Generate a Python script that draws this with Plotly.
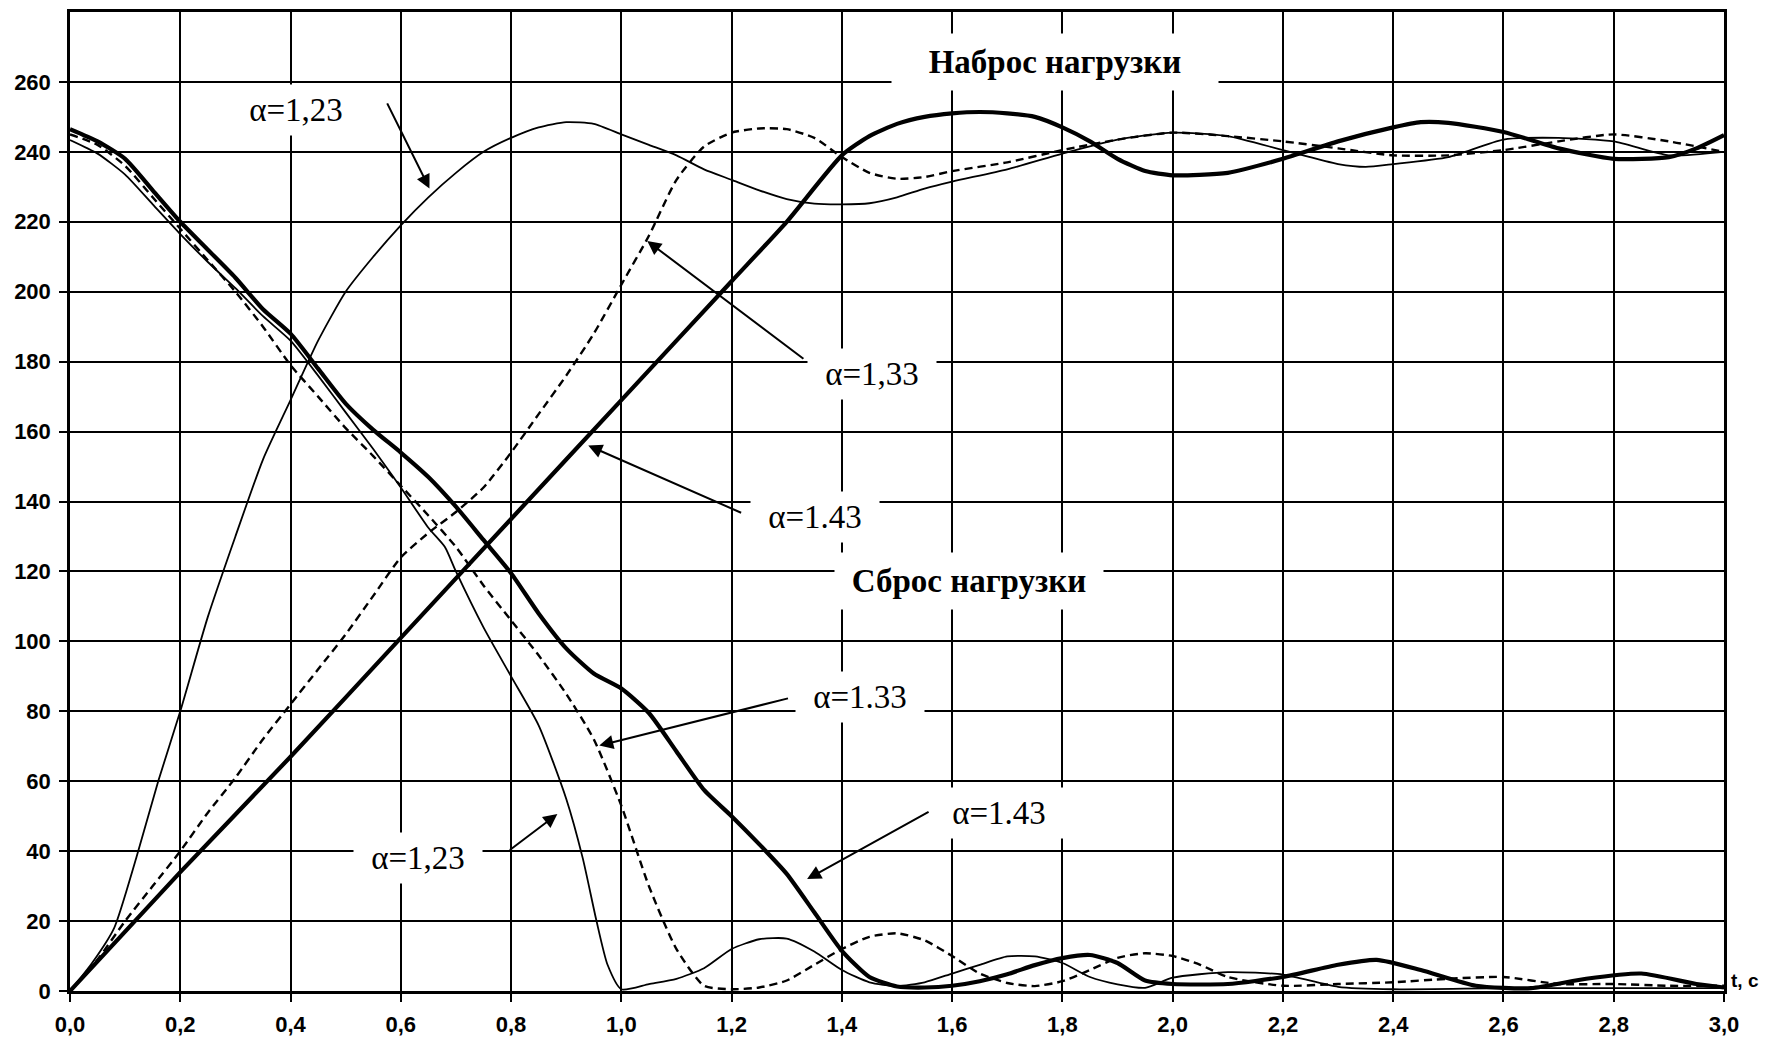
import plotly.graph_objects as go

# ---------------- data ----------------
# Наброс нагрузки (load application), alpha = 1.23 / 1.33 / 1.43
t_rise_123 = [0, 0.04, 0.08, 0.12, 0.16, 0.2, 0.25, 0.3, 0.35, 0.4, 0.45, 0.5, 0.55, 0.6, 0.65, 0.7,
              0.75, 0.8, 0.85, 0.9, 0.95, 1.0, 1.05, 1.1, 1.15, 1.2, 1.25, 1.3, 1.35, 1.4, 1.45, 1.5,
              1.55, 1.6, 1.7, 1.8, 1.9, 2.0, 2.1, 2.2, 2.3, 2.35, 2.4, 2.5, 2.6, 2.7, 2.8, 2.9, 3.0]
v_rise_123 = [0, 8, 18, 38, 60, 80, 107, 130, 152, 169, 186, 200, 210, 219, 227, 234,
              240, 244, 247, 248.5, 248, 245, 242, 239, 235, 232, 229, 226.5, 225.2, 225, 225.3, 227,
              229.5, 231.5, 235, 239.5, 243.5, 245.5, 244.5, 240.5, 236.5, 235.7, 236.5, 238.5, 243.5, 244, 243, 239, 240]

t_rise_133 = [0, 0.05, 0.1, 0.15, 0.2, 0.25, 0.3, 0.35, 0.4, 0.45, 0.5, 0.55, 0.6, 0.65, 0.7, 0.75,
              0.8, 0.85, 0.9, 0.95, 1.0, 1.05, 1.1, 1.15, 1.2, 1.25, 1.3, 1.35, 1.4, 1.45, 1.5, 1.55,
              1.6, 1.7, 1.8, 1.9, 2.0, 2.1, 2.2, 2.3, 2.4, 2.5, 2.6, 2.7, 2.8, 2.9, 3.0]
v_rise_133 = [0, 9, 20, 30, 40, 51, 61, 72, 82, 92, 102, 113, 124, 131, 137, 144,
              154, 165, 176, 188, 202, 216, 232, 241.5, 245.5, 246.7, 246.5, 244, 238.5, 234, 232.3, 232.8,
              234.5, 237, 240.5, 243.5, 245.5, 244.5, 243, 241, 239, 239, 240.5, 243, 245, 243, 240]

t_rise_143 = [0, 0.2, 0.4, 0.6, 0.8, 1.0, 1.2, 1.3, 1.4, 1.45, 1.5, 1.55, 1.6, 1.65, 1.7, 1.75, 1.8,
              1.85, 1.9, 1.95, 2.0, 2.1, 2.2, 2.3, 2.4, 2.45, 2.5, 2.6, 2.7, 2.8, 2.9, 2.95, 3.0]
v_rise_143 = [0, 34, 67, 101, 135, 169, 203, 220, 239, 244.5, 248, 250, 251, 251.4, 251, 250, 247,
              243, 238, 234.5, 233.3, 234, 238, 243, 247, 248.5, 248.3, 245.7, 241, 238, 238.5, 241, 244.8]

# Сброс нагрузки (load rejection), alpha = 1.23 / 1.33 / 1.43
t_fall_123 = [0, 0.05, 0.1, 0.15, 0.2, 0.25, 0.3, 0.35, 0.4, 0.45, 0.5, 0.55, 0.6, 0.65, 0.68, 0.7,
              0.75, 0.8, 0.85, 0.9, 0.93, 0.955, 0.975, 1.0, 1.05, 1.1, 1.15, 1.2, 1.25, 1.3, 1.35,
              1.4, 1.45, 1.5, 1.55, 1.6, 1.65, 1.7, 1.75, 1.8, 1.85, 1.9, 1.95, 2.0, 2.1, 2.2, 2.3,
              2.4, 2.6, 2.8, 3.0]
v_fall_123 = [243.4, 239.5, 233.5, 225, 216.5, 208.5, 201, 193, 186, 176, 165.5, 155, 144, 132.5, 127, 120,
              104, 90, 76, 55, 38, 20, 7.5, 0.5, 2, 3.5, 6.5, 12, 14.8, 15, 11.3,
              6, 2.5, 1.4, 2.5, 5, 7.5, 9.9, 9.9, 8, 4, 1.9, 0.9, 3.8, 5.4, 4.7, 1.2,
              0.5, 0.8, 0.8, 0.8]

t_fall_133 = [0, 0.05, 0.1, 0.15, 0.2, 0.25, 0.3, 0.35, 0.4, 0.45, 0.5, 0.55, 0.6, 0.65, 0.7, 0.75,
              0.8, 0.85, 0.9, 0.95, 1.0, 1.05, 1.1, 1.15, 1.2, 1.25, 1.3, 1.35, 1.4, 1.45, 1.5, 1.55,
              1.6, 1.65, 1.7, 1.75, 1.8, 1.85, 1.9, 1.95, 2.0, 2.05, 2.1, 2.2, 2.3, 2.4, 2.5, 2.6,
              2.7, 2.8, 2.9, 3.0]
v_fall_133 = [245, 242, 236, 227, 218, 209, 200, 190, 179, 170, 161, 153, 144.5, 136, 127, 116,
              106, 96, 85, 72, 53, 30, 12, 1.5, 0.5, 1, 3, 7.5, 12, 15.5, 16.5, 14.5,
              10, 5, 2.3, 1.4, 2.8, 6, 9.5, 10.8, 10, 7.5, 4, 1.5, 2, 2.5, 3.5, 4,
              2, 2, 1.5, 1.5]

t_fall_143 = [0, 0.05, 0.1, 0.15, 0.2, 0.25, 0.3, 0.35, 0.4, 0.45, 0.5, 0.55, 0.6, 0.65, 0.7, 0.75,
              0.8, 0.85, 0.9, 0.95, 1.0, 1.05, 1.1, 1.15, 1.2, 1.25, 1.3, 1.35, 1.4, 1.45, 1.5, 1.55,
              1.6, 1.65, 1.7, 1.75, 1.8, 1.85, 1.9, 1.95, 2.0, 2.1, 2.2, 2.3, 2.37, 2.45, 2.55, 2.65,
              2.75, 2.85, 2.95, 3.0]
v_fall_143 = [246.5, 243, 238, 229, 220, 212, 204, 195, 188, 178, 168, 160.5, 154, 147, 138.5, 129,
              119.5, 108, 98, 90.8, 86.5, 79.5, 68.5, 57.5, 50, 42, 33.5, 22.5, 11.5, 4, 1.3, 1,
              1.5, 2.8, 4.8, 7.4, 9.4, 10.3, 8, 3, 2, 2, 4, 7.5, 8.9, 6, 1.5, 0.8,
              3.5, 5, 2, 1]

# tick labels
x_tickvals = [0.0, 0.2, 0.4, 0.6, 0.8, 1.0, 1.2, 1.4, 1.6, 1.8, 2.0, 2.2, 2.4, 2.6, 2.8, 3.0]
x_ticktext = ["0,0", "0,2", "0,4", "0,6", "0,8", "1,0", "1,2", "1,4", "1,6", "1,8",
              "2,0", "2,2", "2,4", "2,6", "2,8", "3,0"]
y_tickvals = [0, 20, 40, 60, 80, 100, 120, 140, 160, 180, 200, 220, 240, 260]
y_ticktext = ["0", "20", "40", "60", "80", "100", "120", "140", "160", "180", "200", "220", "240", "260"]

# ---------------- figure ----------------
fig = go.Figure()

style_123 = dict(color="black", width=1.8)
style_133 = dict(color="black", width=2.4, dash="8px,5px")
style_143 = dict(color="black", width=4.2)

for t, v, st in [(t_rise_123, v_rise_123, style_123), (t_fall_123, v_fall_123, style_123),
                 (t_rise_133, v_rise_133, style_133), (t_fall_133, v_fall_133, style_133),
                 (t_rise_143, v_rise_143, style_143), (t_fall_143, v_fall_143, style_143)]:
    fig.add_trace(go.Scatter(x=t, y=v, mode="lines", line=dict(shape="spline", smoothing=0.6, **st),
                             showlegend=False, hoverinfo="skip"))

serif = "Liberation Serif, Times New Roman, serif"

labels = [
    ("α=1,23", 0.41, 252.0, False, 134, 46),
    ("α=1,33", 1.454, 176.6, False, 124, 46),
    ("α=1.43", 1.352, 135.5, False, 124, 46),
    ("α=1.33", 1.433, 84.2, False, 124, 46),
    ("α=1.43", 1.685, 50.8, False, 124, 46),
    ("α=1,23", 0.631, 37.9, False, 124, 46),
    ("Наброс нагрузки", 1.787, 265.8, True, 322, 52),
    ("Сброс нагрузки", 1.63, 117.2, True, 264, 52),
]
for txt, x, y, bold, w, h in labels:
    fig.add_annotation(x=x, y=y, xref="x", yref="y", text=("<b>%s</b>" % txt) if bold else txt,
                       showarrow=False, xanchor="center", yanchor="middle",
                       font=dict(family=serif, size=33, color="black"),
                       bgcolor="white", borderpad=2, width=w, height=h, align="center")

arrows = [
    ((0.574, 254.3), (0.652, 229.5)),
    ((1.333, 180.5), (1.047, 214.5)),
    ((1.22, 136.6), (0.94, 156.0)),
    ((1.305, 83.8), (0.96, 70.2)),
    ((1.56, 51.5), (1.337, 32.0)),
    ((0.795, 40.0), (0.884, 50.6)),
]
for (tx, ty), (hx, hy) in arrows:
    fig.add_annotation(x=hx, y=hy, ax=tx, ay=ty, xref="x", yref="y", axref="x", ayref="y",
                       text="", showarrow=True, arrowhead=2, arrowsize=1.4, arrowwidth=2,
                       arrowcolor="black", standoff=0, startstandoff=0)

# axis title at the end of the time axis
fig.add_annotation(x=3.0, y=3, xref="x", yref="y", text="<b>t, c</b>", showarrow=False,
                   xanchor="left", yanchor="middle", xshift=5,
                   font=dict(family="Liberation Sans, Arial, sans-serif", size=19, color="black"))

tickfont = dict(family="Liberation Sans, Arial, sans-serif", size=22, color="black", weight="bold")
fig.update_xaxes(range=[0, 3.0], tickvals=x_tickvals, ticktext=x_ticktext,
                 showgrid=True, gridcolor="black", gridwidth=2.4,
                 showline=True, linecolor="black", linewidth=2.5, mirror=True,
                 ticks="outside", ticklen=8, tickwidth=2, tickcolor="black",
                 tickfont=tickfont, zeroline=False, ticklabelstandoff=4)
fig.update_yaxes(range=[0, 280], tickvals=y_tickvals, ticktext=y_ticktext,
                 showgrid=True, gridcolor="black", gridwidth=2.4,
                 showline=True, linecolor="black", linewidth=2.5, mirror=True,
                 ticks="outside", ticklen=8, tickwidth=2, tickcolor="black",
                 tickfont=tickfont, zeroline=False, ticklabelstandoff=4)

fig.update_layout(width=1754, height=1030, paper_bgcolor="white", plot_bgcolor="white",
                  margin=dict(l=62, r=38, t=1, b=41), showlegend=False)

fig.write_html("out.html")
